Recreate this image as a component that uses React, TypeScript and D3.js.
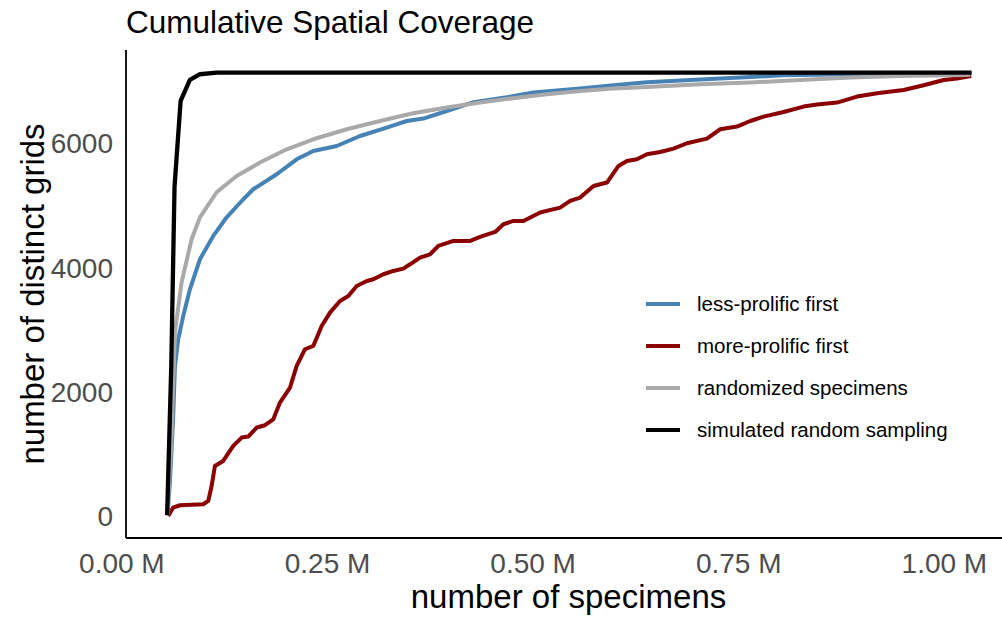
import React from 'react';
import * as d3 from 'd3';

// values (x in millions of specimens, y in distinct grids)
const lessProlificX = [0.0554, 0.0584, 0.0624, 0.0645, 0.0685, 0.0746, 0.0827, 0.0949, 0.1111, 0.1274, 0.1476, 0.1597, 0.1882, 0.2125, 0.2327, 0.2612, 0.2895, 0.322, 0.3464, 0.3665, 0.395, 0.4274, 0.468, 0.5004, 0.5572, 0.5977, 0.6383, 0.7032, 0.764, 0.8041, 0.8856, 0.95, 1.033];
const lessProlificY = [16, 547, 1613, 2418, 2847, 3222, 3651, 4134, 4509, 4809, 5099, 5260, 5501, 5742, 5876, 5956, 6117, 6252, 6358, 6397, 6519, 6660, 6740, 6815, 6880, 6935, 6980, 7025, 7065, 7095, 7110, 7115, 7120];

const moreProlificX = [0.0563, 0.0624, 0.0706, 0.0989, 0.105, 0.1091, 0.1131, 0.1232, 0.1354, 0.1456, 0.1536, 0.1639, 0.174, 0.1841, 0.1922, 0.2044, 0.2125, 0.2226, 0.2327, 0.2429, 0.253, 0.2652, 0.2753, 0.2855, 0.2977, 0.3057, 0.3179, 0.33, 0.3422, 0.3504, 0.3625, 0.3747, 0.3848, 0.403, 0.4234, 0.4355, 0.4538, 0.4639, 0.476, 0.4882, 0.5085, 0.5328, 0.545, 0.5572, 0.5734, 0.5897, 0.6038, 0.614, 0.6262, 0.6383, 0.6545, 0.6707, 0.687, 0.7113, 0.7275, 0.7478, 0.764, 0.7802, 0.8045, 0.8288, 0.8451, 0.8695, 0.8938, 0.9181, 0.9505, 0.9748, 0.9992, 1.0154, 1.0325];
const moreProlificY = [5, 140, 177, 193, 246, 487, 809, 889, 1131, 1266, 1282, 1427, 1464, 1560, 1829, 2070, 2418, 2686, 2739, 3061, 3276, 3463, 3544, 3704, 3785, 3812, 3893, 3946, 3984, 4053, 4161, 4214, 4348, 4428, 4428, 4493, 4573, 4697, 4750, 4750, 4885, 4965, 5072, 5126, 5313, 5368, 5635, 5715, 5742, 5823, 5860, 5914, 6000, 6075, 6225, 6268, 6358, 6429, 6503, 6590, 6622, 6654, 6751, 6804, 6857, 6933, 7018, 7040, 7082];

const randomizedX = [0.0554, 0.0605, 0.0645, 0.0726, 0.0848, 0.0949, 0.1152, 0.1395, 0.1679, 0.2004, 0.2327, 0.2734, 0.3139, 0.354, 0.395, 0.4355, 0.4757, 0.5167, 0.5572, 0.5973, 0.6383, 0.7032, 0.764, 0.8248, 0.8856, 0.9465, 1.0073, 1.0316];
const randomizedY = [16, 1351, 2960, 3764, 4456, 4809, 5212, 5474, 5689, 5903, 6064, 6225, 6358, 6482, 6574, 6654, 6725, 6788, 6841, 6879, 6905, 6949, 6976, 7018, 7056, 7082, 7094, 7102];

const simulatedX = [0.055, 0.06, 0.064, 0.0714, 0.0827, 0.0949, 0.1152, 1.033];
const simulatedY = [20, 2400, 5300, 6680, 7020, 7110, 7135, 7135];

const xTicks = [0, 0.25, 0.5, 0.75, 1.0];
const yTicks = [0, 2000, 4000, 6000];

const seriesNames = ['less-prolific first', 'more-prolific first', 'randomized specimens', 'simulated random sampling'];
const seriesColors = ['#4682B4', '#8B0000', '#A9A9A9', '#000000'];
const seriesX = [lessProlificX, moreProlificX, randomizedX, simulatedX];
const seriesY = [lessProlificY, moreProlificY, randomizedY, simulatedY];

const FONT = '"Liberation Sans", Arial, sans-serif';

const App = () => {
  const width = 1002;
  const height = 617;
  const panel = { left: 126, right: 1011, top: 50, bottom: 538 };

  const x = d3.scaleLinear().domain([0.005, 1.081]).range([panel.left, panel.right]);
  const y = d3.scaleLinear().domain([-350, 7500]).range([panel.bottom, panel.top]);

  const line = d3.line<[number, number]>()
    .x(d => x(d[0]))
    .y(d => y(d[1]));

  return (
    <svg width={width} height={height} style={{ position: 'absolute', left: 0, top: 0, background: '#fff' }}
      fontFamily={FONT}>
      <rect width={width} height={height} fill="#fff" />

      {/* title */}
      <text x={panel.left} y={33} fontSize={31.5} fill="#000">Cumulative Spatial Coverage</text>

      {/* lines */}
      {seriesX.map((xs, i) => (
        <path key={seriesNames[i]}
          d={line(xs.map((v, j) => [v, seriesY[i][j]] as [number, number])) || ''}
          fill="none" stroke={seriesColors[i]} strokeWidth={i === 3 ? 4.3 : 4}
          strokeLinejoin="round" strokeLinecap="butt" />
      ))}

      {/* axis lines */}
      <line x1={panel.left} x2={panel.left} y1={panel.top} y2={panel.bottom} stroke="#000" strokeWidth={1.8} />
      <line x1={panel.left} x2={width} y1={panel.bottom} y2={panel.bottom} stroke="#000" strokeWidth={1.8} />

      {/* x tick labels */}
      {xTicks.map(t => (
        <text key={t} x={x(t)} y={573} textAnchor="middle" fontSize={28} fill="#4D4D4D">
          {d3.format('.2f')(t) + ' M'}
        </text>
      ))}

      {/* y tick labels */}
      {yTicks.map(t => (
        <text key={t} x={113} y={y(t)} dy="0.36em" textAnchor="end" fontSize={28} fill="#4D4D4D">
          {t}
        </text>
      ))}

      {/* axis titles */}
      <text x={(panel.left + panel.right) / 2} y={608} textAnchor="middle" fontSize={33} fill="#000">
        number of specimens
      </text>
      <text transform={`translate(44,${(panel.top + panel.bottom) / 2}) rotate(-90)`} textAnchor="middle"
        fontSize={33} fill="#000">
        number of distinct grids
      </text>

      {/* legend */}
      {seriesNames.map((name, i) => {
        const cy = 304 + i * 42;
        return (
          <g key={name}>
            <line x1={646} x2={680} y1={cy} y2={cy} stroke={seriesColors[i]} strokeWidth={4} />
            <text x={697} y={cy} dy="0.36em" fontSize={20.5} fill="#000">{name}</text>
          </g>
        );
      })}
    </svg>
  );
};

export default App;
